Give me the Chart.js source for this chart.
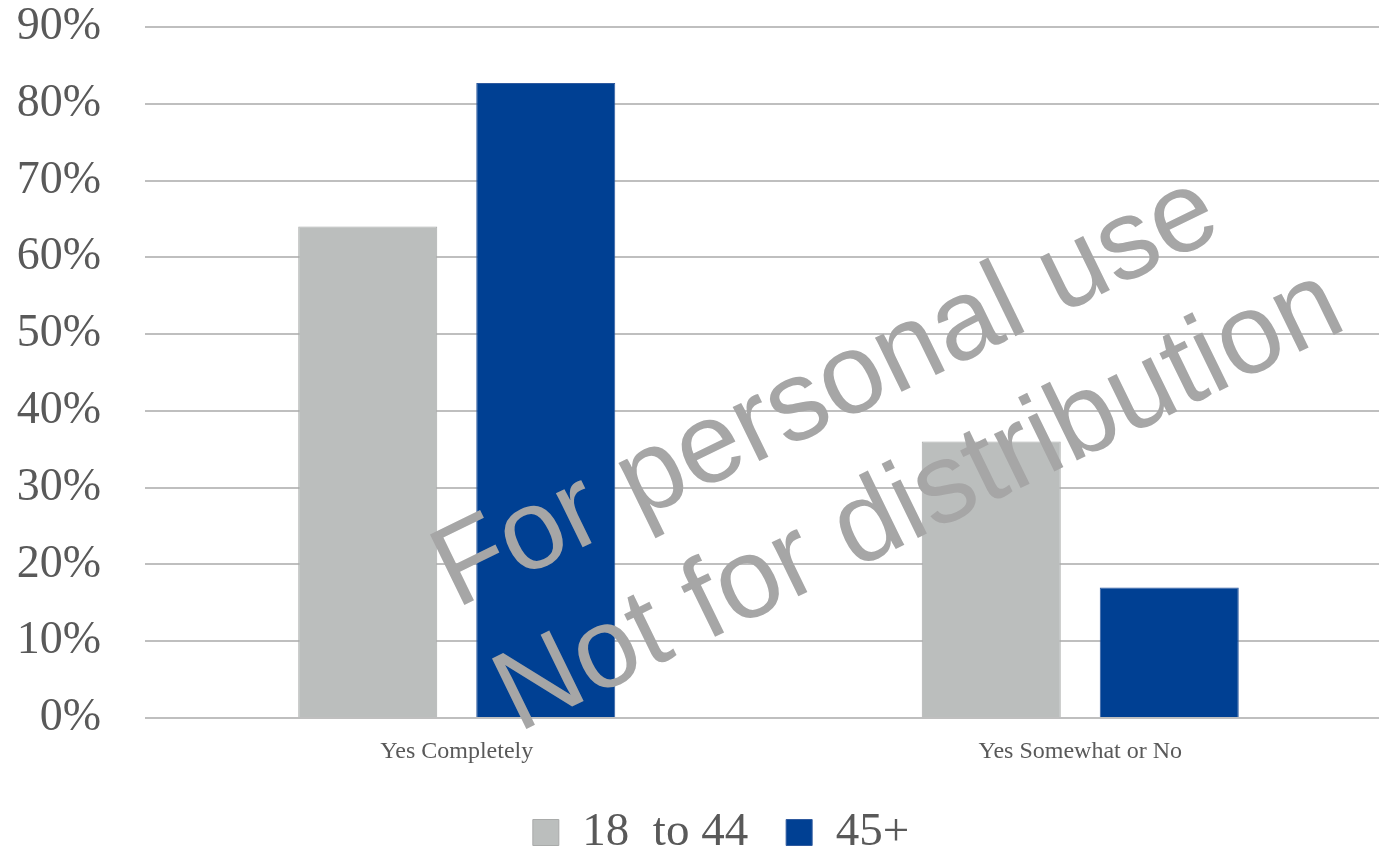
<!DOCTYPE html>
<html>
<head>
<meta charset="UTF-8">
<title>Grafico | Yes Completely x Yes Somewhat or No</title>
<script src="https://cdn.jsdelivr.net/npm/chart.js"></script>
<style>
    html, body { margin: 0; padding: 0; background: #fff; overflow: hidden; }
    .janela { position: relative; width: 1392px; height: 850px; }
    .marca { position: absolute; left: 0; top: 0; pointer-events: none; }
</style>
</head>

<body onload="plotarGrafico()">

    <div class="janela">
        <canvas id="grafico" width="1392" height="850"></canvas>

        <!-- marca d'agua por cima do grafico -->
        <svg class="marca" width="1392" height="850">
            <g font-family="'Liberation Sans', Arial, sans-serif" font-size="114" fill="#a6a6a6">
                <text x="456" y="609" transform="rotate(-26 456 609)">For personal use</text>
                <text x="518" y="733" transform="rotate(-26 518 733)">Not for distribution</text>
            </g>
        </svg>
    </div>

</body>
</html>

<script>
    // dados
    var categorias = ['Yes Completely', 'Yes Somewhat or No'];
    var serie1844 = [64, 36];
    var serie45 = [82.7, 17];
    var nomesSeries = ['18  to 44', '45+'];
    var ticksY = [0, 10, 20, 30, 40, 50, 60, 70, 80, 90];

    var corTexto = '#595959';
    var fonteSerif = "'Liberation Serif', 'Times New Roman', serif";

    // a legenda do original fica um pouco deslocada para a direita
    const moverLegenda = {
        id: 'moverLegenda',
        afterLayout: function (chart) {
            chart.legend.left += 25;
            chart.legend.right += 25;
        }
    };

    function plotarGrafico() {

        let dados = {
            labels: categorias,
            datasets: [{
                label: nomesSeries[0],
                data: serie1844,
                backgroundColor: '#bbbebd',
                borderColor: '#a9abaa',
                borderWidth: 1
            }, {
                label: nomesSeries[1],
                data: serie45,
                backgroundColor: '#004093',
                borderColor: '#2f5a9f',
                borderWidth: 1
            }]
        };

        const config = {
            type: 'bar',
            data: dados,
            plugins: [moverLegenda],
            options: {
                responsive: false,
                animation: false,
                devicePixelRatio: 1,
                categoryPercentage: 0.571,
                barPercentage: 0.781,
                layout: { padding: { top: 27, bottom: -16, left: 0, right: 0 } },
                plugins: {
                    tooltip: { enabled: false },
                    legend: {
                        position: 'bottom',
                        labels: {
                            boxWidth: 26,
                            boxHeight: 26,
                            padding: 38,
                            color: corTexto,
                            font: { family: fonteSerif, size: 47 }
                        }
                    }
                },
                scales: {
                    x: {
                        grid: { display: false },
                        border: { display: false },
                        ticks: {
                            color: corTexto,
                            padding: 11,
                            font: { family: fonteSerif, size: 24 }
                        },
                        afterFit: function (s) { s.height = 53; }
                    },
                    y: {
                        min: ticksY[0],
                        max: ticksY[ticksY.length - 1],
                        afterBuildTicks: function (s) {
                            s.ticks = ticksY.map(function (v) { return { value: v }; });
                        },
                        grid: { color: '#bfbfbf', lineWidth: 2, drawTicks: false },
                        border: { display: false },
                        ticks: {
                            color: corTexto,
                            padding: 44,
                            font: { family: fonteSerif, size: 46, lineHeight: 1 },
                            callback: function (v) { return v + '%'; }
                        },
                        afterFit: function (s) {
                            s.width = 145;
                            s.paddingTop = 23;
                            s.paddingBottom = 23;
                        }
                    }
                }
            }
        };

        new Chart(document.getElementById('grafico'), config);
    }
</script>
